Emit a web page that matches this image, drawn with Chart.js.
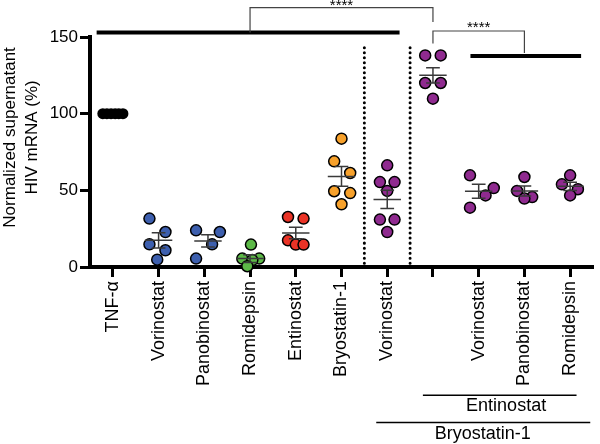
<!DOCTYPE html>
<html>
<head>
<meta charset="utf-8">
<script src="https://cdn.jsdelivr.net/npm/chart.js@4"></script>
<style>
  body { margin: 0; background: #fff; }
  #wrap { width: 600px; height: 444px; }
</style>
</head>
<body>
<div id="wrap"><canvas id="chart" width="600" height="444"></canvas></div>
<script>
// group labels along the x axis ('' = Entinostat + Bryostatin-1 combo)
var categories = ['TNF-\u03b1', 'Vorinostat', 'Panobinostat', 'Romidepsin', 'Entinostat',
    'Bryostatin-1', 'Vorinostat', '', 'Vorinostat', 'Panobinostat', 'Romidepsin'];
var yTitle = ['Normalized supernatant', 'HIV mRNA (%)'];

// normalized supernatant HIV mRNA (%) per replicate
var tnfValues = [100, 100, 100, 100, 100, 100];
var vorinostatValues = [31.6, 22.8, 14.8, 10.9, 4.8];
var panobinostatValues = [23.9, 22.8, 14.8, 5.5];
var romidepsinValues = [14.6, 5.5, 5.5, 4.5, 0.5];
var entinostatValues = [32.6, 31.6, 17.4, 14.6, 14.6];
var bryostatinValues = [83.7, 68.9, 61.3, 49.4, 48.2, 40.9];
var vorBryoValues = [66.3, 55.4, 55.4, 49.6, 30.9, 30.9, 22.8];
var entBryoValues = [138, 138, 120, 120, 109.8];
var vorEntBryoValues = [59.8, 51.5, 46.7, 38.7];
var panEntBryoValues = [58.7, 49.6, 45.6, 44.6];
var romEntBryoValues = [59.8, 53.9, 50.7, 46.7];

// mean and SEM
var means = [100, 17.4, 17, 5.5, 22.2, 59.1, 44.1, 125, 49.4, 49.6, 52.6];
var sems = [0, 5, 4, 2.5, 3.8, 6.5, 6, 5, 4.5, 3.3, 2.7];

var groups = [tnfValues, vorinostatValues, panobinostatValues, romidepsinValues, entinostatValues,
    bryostatinValues, vorBryoValues, entBryoValues, vorEntBryoValues, panEntBryoValues, romEntBryoValues];

// horizontal scatter of the dots inside each column
var jitter = [
    [-0.22, -0.13, -0.04, 0.05, 0.13, 0.22],
    [-0.2, 0.15, -0.2, 0.15, -0.03],
    [-0.18, 0.34, 0.17, -0.18],
    [0.02, -0.17, 0.2, 0.05, -0.06],
    [-0.17, 0.17, -0.17, 0, 0.17],
    [0, -0.16, 0.19, -0.16, 0.19, 0],
    [0, -0.16, 0.16, 0, -0.16, 0.16, 0],
    [-0.17, 0.17, -0.17, 0.17, 0],
    [-0.19, 0.33, 0.15, -0.19],
    [0, -0.16, 0.17, 0],
    [0, -0.18, 0.17, 0]
];

var colors = ['#000000', '#3d5fae', '#3d5fae', '#5cb947', '#ea3326', '#f7a12b',
    '#8f2a8f', '#8f2a8f', '#8f2a8f', '#8f2a8f', '#8f2a8f'];

var FONT = "'Liberation Sans', Arial, sans-serif";

var datasets = groups.map(function (vals, i) {
    return {
        data: vals.map(function (v, j) { return { x: i + jitter[i][j], y: v }; }),
        backgroundColor: colors[i],
        borderColor: '#000',
        borderWidth: i === 0 ? 0 : 1.5,
        pointRadius: 5.5,
        clip: false
    };
});

var extras = {
    id: 'extras',
    afterDatasetsDraw: function (chart) {
        var ctx = chart.ctx;
        var xs = chart.scales.x, ys = chart.scales.y;
        var X = function (v) { return xs.getPixelForValue(v); };
        var Y = function (v) { return ys.getPixelForValue(v); };
        ctx.save();

        // mean +/- SEM
        ctx.strokeStyle = '#3a3a3a';
        ctx.lineWidth = 1.5;
        means.forEach(function (m, i) {
            if (i === 0) return;
            var cx = X(i + (i === 2 ? 0.08 : 0));
            var w = 0.3 * (X(1) - X(0)), c = 0.15 * (X(1) - X(0));
            ctx.beginPath();
            ctx.moveTo(cx - w, Y(m)); ctx.lineTo(cx + w, Y(m));
            ctx.moveTo(cx, Y(m - sems[i])); ctx.lineTo(cx, Y(m + sems[i]));
            ctx.moveTo(cx - c, Y(m + sems[i])); ctx.lineTo(cx + c, Y(m + sems[i]));
            ctx.moveTo(cx - c, Y(m - sems[i])); ctx.lineTo(cx + c, Y(m - sems[i]));
            ctx.stroke();
        });

        // dotted separators
        ctx.strokeStyle = '#000';
        ctx.lineWidth = 3;
        ctx.lineCap = 'round';
        ctx.setLineDash([0.01, 5]);
        [5.5, 6.5].forEach(function (v) {
            ctx.beginPath();
            ctx.moveTo(X(v), Y(143));
            ctx.lineTo(X(v), Y(1));
            ctx.stroke();
        });
        ctx.setLineDash([]);
        ctx.lineCap = 'butt';

        // significance bars and brackets
        ctx.lineWidth = 4;
        ctx.beginPath();
        ctx.moveTo(X(-0.355), Y(152.9)); ctx.lineTo(X(6.27), Y(152.9));
        ctx.moveTo(X(7.82), Y(137.6)); ctx.lineTo(X(10.24), Y(137.6));
        ctx.stroke();

        ctx.strokeStyle = '#444';
        ctx.lineWidth = 1.2;
        ctx.beginPath();
        ctx.moveTo(X(3), Y(152.9)); ctx.lineTo(X(3), Y(169.2));
        ctx.lineTo(X(7), Y(169.2)); ctx.lineTo(X(7), Y(159.8));
        ctx.moveTo(X(7), Y(145.7)); ctx.lineTo(X(7), Y(153.9));
        ctx.lineTo(X(9), Y(153.9)); ctx.lineTo(X(9), Y(139.6));
        ctx.stroke();

        ctx.fillStyle = '#000';
        ctx.font = '15px ' + FONT;
        ctx.textAlign = 'center';
        ctx.textBaseline = 'middle';
        ctx.fillText('****', X(5), Y(169.2) - 2);
        ctx.fillText('****', X(8), Y(153.9) - 3);

        // group brackets under the axis labels
        var b = chart.chartArea.bottom;
        ctx.strokeStyle = '#000';
        ctx.lineWidth = 1.5;
        ctx.beginPath();
        ctx.moveTo(X(6.78), b + 128.3); ctx.lineTo(X(10.14), b + 128.3);
        ctx.moveTo(X(5.76), b + 155.6); ctx.lineTo(X(10.44), b + 155.6);
        ctx.stroke();
        ctx.font = '18px ' + FONT;
        ctx.fillText('Entinostat', X(8.6), b + 139.5);
        ctx.fillText('Bryostatin-1', X(8.09), b + 166.8);

        // y axis title, two lines
        ctx.font = '17px ' + FONT;
        ctx.translate(0, Y(84.5));
        ctx.rotate(-Math.PI / 2);
        ctx.fillText(yTitle[0], 0, 10);
        ctx.fillText(yTitle[1], 0, 32);
        ctx.restore();
    }
};

new Chart(document.getElementById('chart').getContext('2d'), {
    type: 'scatter',
    data: { datasets: datasets },
    plugins: [extras],
    options: {
        responsive: false,
        animation: false,
        layout: { padding: { top: 37, right: 2, left: 0, bottom: 0 } },
        plugins: { legend: { display: false }, tooltip: { enabled: false } },
        scales: {
            x: {
                type: 'linear',
                min: -0.5,
                max: 10.5,
                afterBuildTicks: function (scale) {
                    scale.ticks = categories.map(function (c, i) { return { value: i }; });
                },
                afterFit: function (scale) { scale.height = 177; },
                ticks: {
                    autoSkip: false,
                    maxRotation: 90,
                    minRotation: 90,
                    padding: 4,
                    color: '#000',
                    font: { family: FONT, size: 18 },
                    callback: function (v) { return categories[v]; }
                },
                grid: { drawOnChartArea: false, tickLength: 10, tickWidth: 3, tickColor: '#000' },
                border: { display: true, width: 4, color: '#000' }
            },
            y: {
                min: 0,
                max: 150,
                afterFit: function (scale) { scale.width = 90; },
                ticks: {
                    stepSize: 50,
                    padding: 2,
                    color: '#000',
                    font: { family: FONT, size: 17 }
                },
                grid: { drawOnChartArea: false, tickLength: 10, tickWidth: 3, tickColor: '#000' },
                border: { display: true, width: 4, color: '#000' }
            }
        }
    }
});
</script>
</body>
</html>
